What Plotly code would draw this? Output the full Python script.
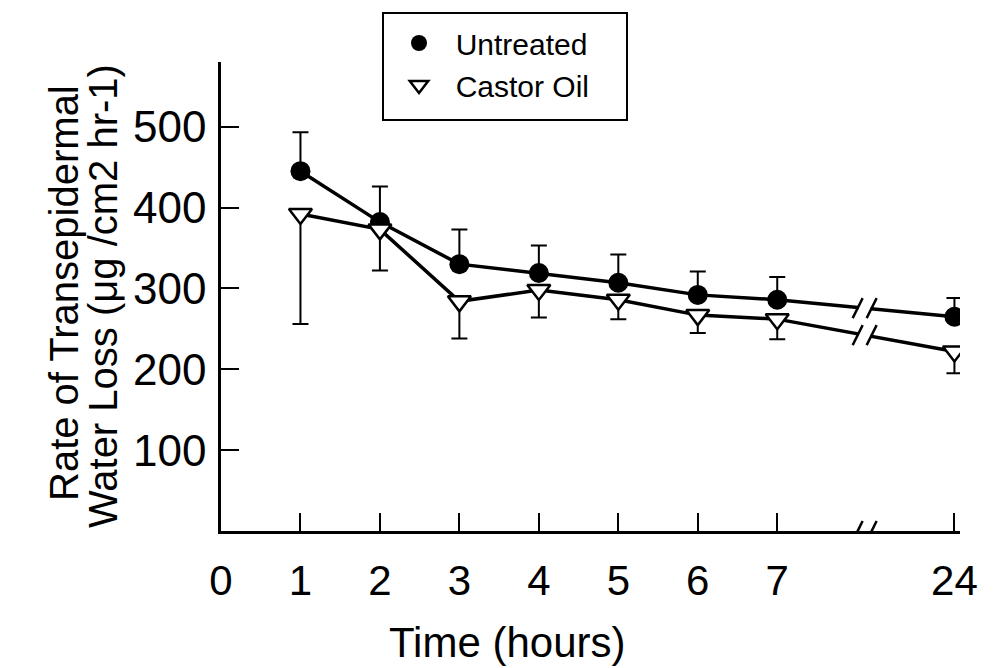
import plotly.graph_objects as go

hours = [1, 2, 3, 4, 5, 6, 7, 24]
tick_hours = [0, 1, 2, 3, 4, 5, 6, 7, 24]
untreated = [445, 382, 330, 319, 307, 292, 286, 265]
untreated_err = [48, 44, 43, 34, 35, 29, 28, 23]
castor = [392, 373, 284, 298, 286, 267, 262, 222]
castor_err = [136, 51, 46, 34, 24, 22, 25, 27]
y_ticks = [100, 200, 300, 400, 500]

FONT = "Liberation Sans, Arial, sans-serif"
BREAK_POS = 8.1
POS_24 = 9.23
OFF = 8  # page body margin offset
W, H = 997 - OFF, 668 - OFF
L, R, T, B = 221 - OFF, 37, 62 - OFF, 137
PW, PH = W - L - R, H - T - B


def xpos(h):
    # broken axis: hours up to 7 are linear, 24 is placed after the break
    return h if h <= 7 else POS_24


def px_x(px):
    return (px - OFF - L) / PW


def px_y(py):
    return (H - B - (py - OFF)) / PH


xs = [xpos(h) for h in hours]
tick_pos = [xpos(h) for h in tick_hours]

fig = go.Figure()

# connecting lines
for ys in (untreated, castor):
    fig.add_trace(go.Scatter(x=xs, y=ys, mode="lines",
                             line=dict(color="black", width=3.5),
                             showlegend=False, hoverinfo="skip"))

fig.add_trace(go.Scatter(
    x=xs, y=untreated, mode="markers", name="\u00a0\u00a0Untreated",
    marker=dict(symbol="circle", size=20, color="black"),
    error_y=dict(type="data", symmetric=False, array=untreated_err,
                 arrayminus=[0] * len(untreated_err),
                 color="black", thickness=2, width=8),
))
fig.add_trace(go.Scatter(
    x=xs, y=castor, mode="markers", name="\u00a0\u00a0Castor Oil",
    marker=dict(symbol="triangle-down", size=20, color="white",
                line=dict(color="black", width=2.5)),
    error_y=dict(type="data", symmetric=False, array=[0] * len(castor_err),
                 arrayminus=castor_err,
                 color="black", thickness=2, width=8),
))


def add_break(yval):
    # white gap + two slanted slashes at the break position
    fig.add_shape(type="rect", xref="x", yref="y", xsizemode="pixel",
                  ysizemode="pixel", xanchor=BREAK_POS, yanchor=yval,
                  x0=-6, x1=6, y0=-6, y1=6,
                  fillcolor="white", line=dict(width=0), layer="above")
    for off in (-7, 7):
        fig.add_shape(type="line", xref="x", yref="y", xsizemode="pixel",
                      ysizemode="pixel", xanchor=BREAK_POS, yanchor=yval,
                      x0=off - 5, x1=off + 5, y0=-10, y1=10,
                      line=dict(color="black", width=2.5), layer="above")


frac = (BREAK_POS - 7) / (POS_24 - 7)
for ys in (untreated, castor):
    add_break(ys[6] + (ys[7] - ys[6]) * frac)
add_break(0)

# legend frame
fig.add_shape(type="rect", xref="paper", yref="paper",
              x0=px_x(383), x1=px_x(627), y0=px_y(120), y1=px_y(13),
              line=dict(color="black", width=2), fillcolor="rgba(0,0,0,0)")

fig.add_annotation(text="Rate of Transepidermal", textangle=-90,
                   xref="paper", yref="paper", x=px_x(64), y=px_y(293),
                   xanchor="center", yanchor="middle", showarrow=False,
                   font=dict(family=FONT, size=40, color="black"))
fig.add_annotation(text="Water Loss (\u03bcg /cm2 hr-1)", textangle=-90,
                   xref="paper", yref="paper", x=px_x(103), y=px_y(296),
                   xanchor="center", yanchor="middle", showarrow=False,
                   font=dict(family=FONT, size=40, color="black"))
fig.add_annotation(text="Time (hours)", xref="paper", yref="paper",
                   x=px_x(507), y=px_y(642),
                   xanchor="center", yanchor="middle", showarrow=False,
                   font=dict(family=FONT, size=42, color="black"))

fig.update_layout(
    width=W, height=H,
    margin=dict(l=L, r=R, t=T, b=B, autoexpand=False),
    paper_bgcolor="white", plot_bgcolor="white",
    font=dict(family=FONT, color="black"),
    showlegend=True,
    legend=dict(xref="container", yref="container",
                x=(399 - OFF) / W, y=1 - (17 - OFF) / H,
                xanchor="left", yanchor="top",
                borderwidth=0, bgcolor="rgba(0,0,0,0)",
                font=dict(family=FONT, size=30, color="black"),
                itemsizing="trace"),
    xaxis=dict(range=[0, 9.3], showgrid=False, zeroline=False,
               automargin=False,
               showline=True, linecolor="black", linewidth=2.5,
               ticks="inside", ticklen=18, tickwidth=2, tickcolor="black",
               tickvals=tick_pos, ticktext=[str(h) for h in tick_hours],
               tickfont=dict(family=FONT, size=42, color="black"),
               ticklabelstandoff=11),
    yaxis=dict(range=[0, 580], showgrid=False, zeroline=False,
               automargin=False,
               showline=True, linecolor="black", linewidth=2.5,
               ticks="inside", ticklen=18, tickwidth=2, tickcolor="black",
               tickvals=y_ticks, ticktext=[str(v) for v in y_ticks],
               tickfont=dict(family=FONT, size=44, color="black"),
               ticklabelstandoff=3),
)

fig.write_html("out.html")
